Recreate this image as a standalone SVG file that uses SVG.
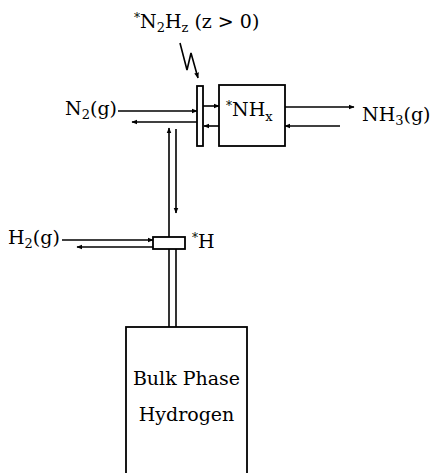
<svg xmlns="http://www.w3.org/2000/svg" width="430" height="473" viewBox="0 0 430 473">
<defs>
<marker id="ah" viewBox="0 0 10 10" refX="9" refY="5" markerWidth="6" markerHeight="6" markerUnits="userSpaceOnUse" orient="auto">
<path d="M0,1 L10,5 L0,9 z" fill="#000"/>
</marker>
</defs>
<style>
text{font-family:"DejaVu Serif","Liberation Serif",serif;font-size:19px;fill:#000}
.sub{font-size:13px}
.ast{font-size:12px}
.box{fill:#fff;stroke:#000;stroke-width:1.8}
.ln{fill:none;stroke:#000;stroke-width:1.6}
.ar{fill:none;stroke:#000;stroke-width:1.6;marker-end:url(#ah)}
</style>
<rect width="430" height="473" fill="#fff"/>
<g id="connectors">
<line class="ar" x1="118" y1="111" x2="197" y2="111"/>
<line class="ar" x1="197" y1="122" x2="132" y2="122"/>
<line class="ar" x1="203" y1="106" x2="219" y2="106"/>
<line class="ar" x1="219" y1="126" x2="204" y2="126"/>
<line class="ar" x1="285" y1="107" x2="354" y2="107"/>
<line class="ar" x1="340" y1="126" x2="285" y2="126"/>
<line class="ar" x1="169" y1="237" x2="169" y2="128"/>
<line class="ar" x1="176" y1="129" x2="176" y2="213"/>
<line class="ar" x1="62" y1="240" x2="153" y2="240"/>
<line class="ar" x1="153" y1="247" x2="77" y2="247"/>
<line class="ln" x1="169" y1="249" x2="169" y2="327"/>
<line class="ln" x1="176" y1="249" x2="176" y2="327"/>
<polyline class="ar" points="180,43 187,70 191,53 198,78"/>
</g>
<g id="n2hz">
<text x="134" y="28"><tspan class="ast" dy="-6">*</tspan><tspan dy="6">N</tspan><tspan class="sub" dy="4">2</tspan><tspan dy="-4">H</tspan><tspan class="sub" dy="4">z</tspan><tspan dy="-4"> (z &gt; 0)</tspan></text>
</g>
<g id="n2g">
<text x="117" y="115" text-anchor="end">N<tspan class="sub" dy="4">2</tspan><tspan dy="-4">(g)</tspan></text>
</g>
<g id="membrane">
<rect class="box" x="197" y="86" width="6" height="60"/>
</g>
<g id="nhx">
<rect class="box" x="219" y="85" width="66" height="61"/>
<text x="226" y="116"><tspan class="ast" dy="-6">*</tspan><tspan dy="6">NH</tspan><tspan class="sub" dy="5">x</tspan></text>
</g>
<g id="nh3g">
<text x="362" y="121">NH<tspan class="sub" dy="4">3</tspan><tspan dy="-4">(g)</tspan></text>
</g>
<g id="h2g">
<text x="8" y="244">H<tspan class="sub" dy="4">2</tspan><tspan dy="-4">(g)</tspan></text>
</g>
<g id="hsurf">
<rect class="box" x="153" y="237" width="32" height="12"/>
<text x="192" y="248"><tspan class="ast" dy="-6">*</tspan><tspan dy="6">H</tspan></text>
</g>
<g id="bulk">
<rect class="box" x="126" y="327" width="121" height="160"/>
<text x="186.5" y="385" text-anchor="middle">Bulk Phase</text>
<text x="186.5" y="421" text-anchor="middle">Hydrogen</text>
</g>
</svg>
